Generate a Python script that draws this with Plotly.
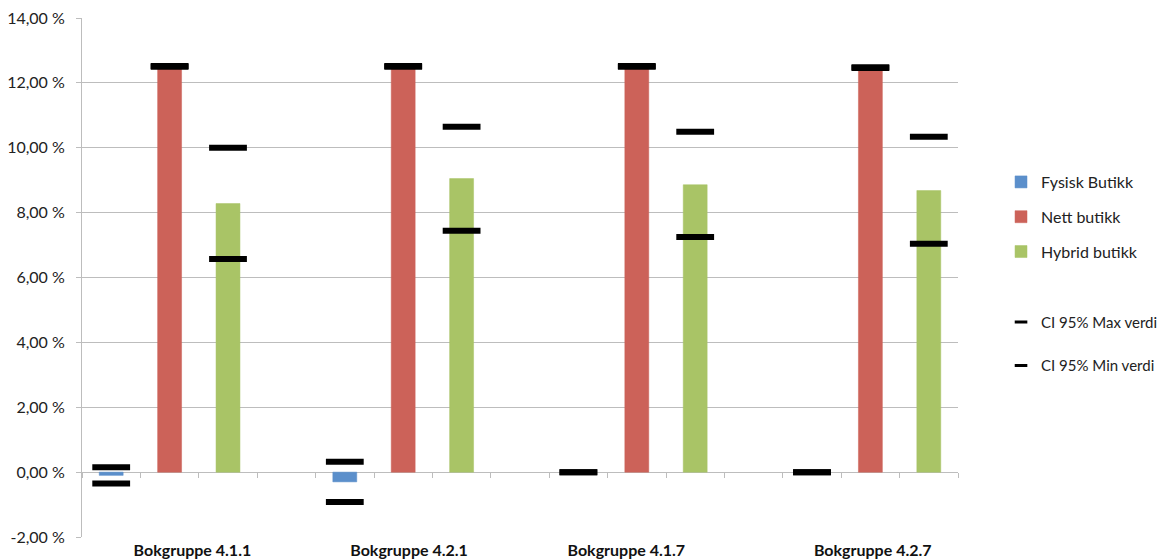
import plotly.graph_objects as go

groups = ["Bokgruppe 4.1.1", "Bokgruppe 4.2.1", "Bokgruppe 4.1.7", "Bokgruppe 4.2.7"]
series_names = ["Fysisk Butikk", "Nett butikk", "Hybrid butikk"]
fysisk = [-0.10, -0.30, 0.0, 0.0]
nett = [12.50, 12.50, 12.50, 12.47]
hybrid = [8.28, 9.05, 8.86, 8.68]
ci_max_fysisk = [0.15, 0.32, 0.0, 0.0]
ci_max_nett = [12.52, 12.52, 12.52, 12.48]
ci_max_hybrid = [10.00, 10.65, 10.49, 10.34]
ci_min_fysisk = [-0.35, -0.92, 0.0, 0.0]
ci_min_nett = [12.50, 12.50, 12.50, 12.46]
ci_min_hybrid = [6.57, 7.44, 7.25, 7.04]
y_ticks = [-2, 0, 2, 4, 6, 8, 10, 12, 14]
y_tick_text = [f"{v:.2f} %".replace(".", ",") for v in y_ticks]

colors = ["#5b8fcb", "#cc6259", "#a9c466"]
FONT = "Lato, Open Sans, sans-serif"
GRID = "#bdbdbd"
SLOTS = 4  # category slots per group (3 bars + 1 empty)
n_slots = SLOTS * len(groups) - 1  # 15 slots, the last group has no trailing gap
label_shift = [0.39, 0.10, -0.18, 0.04]

def slot_x(s):
    return [SLOTS * g + s for g in range(len(groups))]

fig = go.Figure()
for s, (name, vals) in enumerate(zip(series_names, [fysisk, nett, hybrid])):
    fig.add_trace(go.Bar(
        x=slot_x(s), y=vals, name=name, width=0.41,
        marker=dict(color=colors[s], line=dict(color=colors[s], width=0.5)),
        legend="legend", legendgroup=name,
    ))

ci_x = slot_x(0) + slot_x(1) + slot_x(2)
ci_max = ci_max_fysisk + ci_max_nett + ci_max_hybrid
ci_min = ci_min_fysisk + ci_min_nett + ci_min_hybrid
for name, vals in [("CI 95% Max verdi", ci_max), ("CI 95% Min verdi", ci_min)]:
    fig.add_trace(go.Scatter(
        x=ci_x, y=vals, mode="markers", showlegend=False,
        marker=dict(symbol="line-ew", size=27, color="black",
                    line=dict(color="black", width=6)),
    ))
    fig.add_trace(go.Scatter(
        x=[None], y=[None], mode="markers", name=name,
        marker=dict(symbol="line-ew", size=9, color="black",
                    line=dict(color="black", width=3)),
        legend="legend2", legendgroup=name,
    ))

# dummy trace for the axis at zero
fig.add_trace(go.Scatter(x=[None], y=[None], xaxis="x2", showlegend=False))

x_range = [-0.5, n_slots - 0.5]

fig.update_layout(
    width=1159, height=559,
    margin=dict(l=82, r=201, t=18, b=22, autoexpand=False),
    paper_bgcolor="white", plot_bgcolor="white",
    barmode="overlay",
    font=dict(family=FONT, size=15, color="#222"),
    xaxis=dict(
        range=x_range,
        tickvals=[SLOTS * g + 1 + label_shift[g] for g in range(len(groups))],
        ticktext=groups,
        tickfont=dict(family=FONT, size=16, color="#111", weight="bold"),
        showgrid=False, zeroline=False, showline=False, ticks="", ticklen=0,
        ticklabelstandoff=2, automargin=False,
    ),
    xaxis2=dict(
        overlaying="x", anchor="free", position=2 / 16,
        range=x_range, layer="below traces",
        tickvals=[i - 0.5 for i in range(n_slots + 1)],
        showticklabels=False, ticks="outside", ticklen=5, tickcolor=GRID,
        showline=True, linecolor=GRID, linewidth=1,
        showgrid=False, zeroline=False, automargin=False,
    ),
    yaxis=dict(
        range=[-2, 14], tickvals=y_ticks, ticktext=y_tick_text,
        showgrid=True, gridcolor=GRID, gridwidth=1,
        showline=True, linecolor=GRID, linewidth=1,
        ticks="outside", ticklen=5, tickcolor=GRID, ticklabelstandoff=8,
        zeroline=False, tickfont=dict(size=16, color="#222"),
        automargin=False,
    ),
    legend=dict(
        xref="container", yref="container",
        x=0.8637, xanchor="left", y=0.7048, yanchor="top",
        traceorder="grouped", tracegroupgap=11,
        font=dict(family=FONT, size=16, color="#222"),
        bgcolor="rgba(0,0,0,0)",
    ),
    legend2=dict(
        xref="container", yref="container",
        x=0.8637, xanchor="left", y=0.453, yanchor="top",
        traceorder="grouped", tracegroupgap=21,
        font=dict(family=FONT, size=15, color="#222"),
        bgcolor="rgba(0,0,0,0)",
    ),
)

fig.write_html("out.html", config={"displayModeBar": False},
               post_script="document.body.style.margin='0';")
